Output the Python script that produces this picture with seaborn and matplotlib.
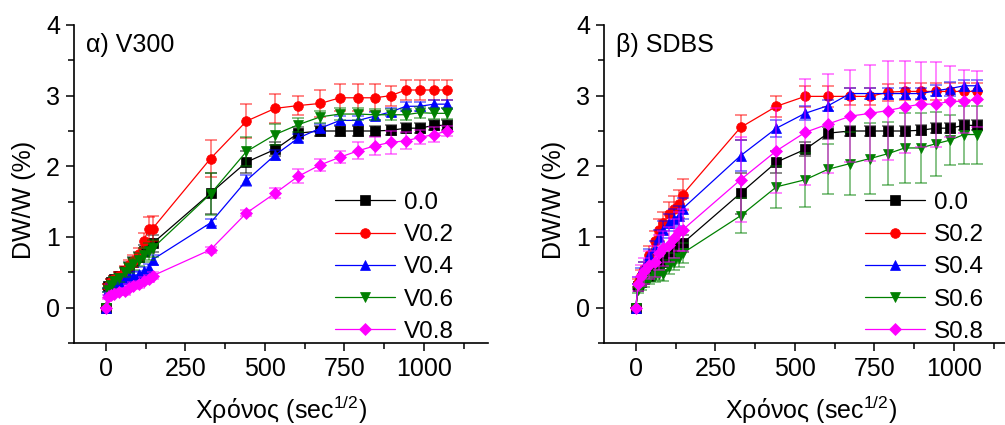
import numpy as np
import pandas as pd
import matplotlib
matplotlib.use("Agg")
import matplotlib.pyplot as plt
from matplotlib.ticker import MultipleLocator
import seaborn as sns

# time axis, sqrt(seconds)
t_sqrt = [0, 7.7, 17.3, 24.5, 42.4, 60, 73.5, 84.9, 103.9, 120, 134.2, 147,
          329, 442, 532, 605, 674, 736, 793, 845, 895, 943, 987, 1031, 1073]

# control (same in both panels)
y_00 = [0, 0.30, 0.36, 0.40, 0.45, 0.52, 0.58, 0.65, 0.72, 0.80, 0.87, 0.91,
        1.62, 2.06, 2.24, 2.47, 2.50, 2.50, 2.50, 2.50, 2.51, 2.54, 2.54, 2.58, 2.58]
e_00 = [0, 0.03, 0.04, 0.05, 0.05, 0.05, 0.06, 0.06, 0.07, 0.08, 0.10, 0.12,
        0.29, 0.15, 0.10, 0.08, 0.07, 0.07, 0.07, 0.07, 0.07, 0.07, 0.07, 0.07, 0.07]

# panel a) V300
y_v02 = [0, 0.30, 0.36, 0.40, 0.45, 0.52, 0.60, 0.66, 0.76, 0.95, 1.11, 1.12,
         2.11, 2.64, 2.82, 2.86, 2.89, 2.97, 2.97, 2.97, 3.00, 3.08, 3.08, 3.08, 3.08]
e_v02 = [0, 0.04, 0.05, 0.05, 0.06, 0.07, 0.08, 0.08, 0.09, 0.10, 0.18, 0.18,
         0.26, 0.24, 0.20, 0.14, 0.19, 0.19, 0.19, 0.19, 0.14, 0.14, 0.14, 0.14, 0.14]
y_v04 = [0, 0.25, 0.30, 0.33, 0.36, 0.40, 0.43, 0.45, 0.47, 0.52, 0.56, 0.68,
         1.20, 1.80, 2.16, 2.40, 2.54, 2.65, 2.65, 2.71, 2.77, 2.85, 2.85, 2.88, 2.88]
e_v04 = [0, 0.03, 0.03, 0.04, 0.04, 0.04, 0.05, 0.05, 0.05, 0.06, 0.06, 0.07,
         0.05, 0.08, 0.07, 0.06, 0.06, 0.06, 0.06, 0.06, 0.06, 0.06, 0.06, 0.06, 0.06]
y_v06 = [0, 0.25, 0.32, 0.38, 0.42, 0.50, 0.56, 0.62, 0.68, 0.75, 0.80, 0.84,
         1.61, 2.21, 2.45, 2.59, 2.70, 2.74, 2.74, 2.73, 2.73, 2.73, 2.76, 2.75, 2.75]
e_v06 = [0, 0.03, 0.04, 0.05, 0.05, 0.06, 0.07, 0.08, 0.09, 0.10, 0.12, 0.12,
         0.30, 0.20, 0.15, 0.10, 0.08, 0.08, 0.08, 0.08, 0.08, 0.08, 0.08, 0.08, 0.08]
y_v08 = [0, 0.15, 0.18, 0.20, 0.22, 0.23, 0.28, 0.31, 0.33, 0.38, 0.41, 0.45,
         0.82, 1.34, 1.62, 1.86, 2.02, 2.13, 2.22, 2.29, 2.34, 2.36, 2.41, 2.45, 2.50]
e_v08 = [0, 0.03, 0.03, 0.04, 0.04, 0.05, 0.05, 0.05, 0.05, 0.05, 0.05, 0.05,
         0.04, 0.04, 0.07, 0.10, 0.08, 0.08, 0.12, 0.13, 0.16, 0.12, 0.10, 0.10, 0.07]

# panel b) SDBS
y_s02 = [0, 0.35, 0.45, 0.55, 0.75, 0.95, 1.10, 1.20, 1.32, 1.40, 1.47, 1.60,
         2.55, 2.85, 2.99, 2.99, 2.99, 2.99, 3.05, 3.06, 3.06, 3.06, 3.06, 3.06, 3.06]
e_s02 = [0, 0.06, 0.08, 0.10, 0.12, 0.14, 0.15, 0.16, 0.18, 0.18, 0.20, 0.22,
         0.18, 0.15, 0.15, 0.15, 0.12, 0.12, 0.12, 0.12, 0.12, 0.12, 0.12, 0.12, 0.12]
y_s04 = [0, 0.38, 0.50, 0.58, 0.75, 0.85, 1.00, 1.10, 1.20, 1.26, 1.30, 1.40,
         2.15, 2.54, 2.75, 2.86, 3.03, 3.03, 3.03, 3.03, 3.03, 3.07, 3.10, 3.14, 3.14]
e_s04 = [0, 0.05, 0.06, 0.07, 0.08, 0.10, 0.10, 0.12, 0.12, 0.13, 0.14, 0.15,
         0.22, 0.12, 0.10, 0.08, 0.08, 0.08, 0.08, 0.08, 0.08, 0.08, 0.10, 0.08, 0.08]
y_s06 = [0, 0.25, 0.30, 0.35, 0.40, 0.45, 0.47, 0.48, 0.58, 0.65, 0.70, 0.77,
         1.30, 1.71, 1.81, 1.96, 2.04, 2.11, 2.18, 2.26, 2.26, 2.32, 2.37, 2.45, 2.45]
e_s06 = [0, 0.04, 0.05, 0.06, 0.07, 0.08, 0.08, 0.10, 0.10, 0.12, 0.12, 0.14,
         0.25, 0.30, 0.38, 0.35, 0.45, 0.50, 0.45, 0.50, 0.50, 0.45, 0.35, 0.41, 0.41]
y_s08 = [0, 0.33, 0.45, 0.52, 0.60, 0.65, 0.78, 0.84, 0.89, 0.98, 1.08, 1.10,
         1.81, 2.22, 2.48, 2.60, 2.71, 2.75, 2.79, 2.84, 2.88, 2.88, 2.92, 2.92, 2.95]
e_s08 = [0, 0.10, 0.15, 0.18, 0.20, 0.22, 0.25, 0.25, 0.25, 0.28, 0.28, 0.30,
         0.60, 0.60, 0.75, 0.70, 0.65, 0.68, 0.70, 0.65, 0.60, 0.60, 0.50, 0.45, 0.40]

labels_v = ["0.0", "V0.2", "V0.4", "V0.6", "V0.8"]
labels_s = ["0.0", "S0.2", "S0.4", "S0.6", "S0.8"]
colors = ["#000000", "#ff0000", "#0000ff", "#008000", "#ff00ff"]
markers = ["s", "o", "^", "v", "D"]
msizes = [6.5, 7, 7.5, 7.5, 6]

sns.set_theme(style="ticks")
plt.rcParams["font.family"] = ["Liberation Sans", "DejaVu Sans"]
plt.rcParams["mathtext.default"] = "regular"
plt.rcParams["text.color"] = "black"
plt.rcParams["axes.labelcolor"] = "black"
plt.rcParams["xtick.color"] = "black"
plt.rcParams["ytick.color"] = "black"


def draw_panel(ax, ys, es, labels, title):
    handles = []
    for y, e, lab, c, m, ms in zip(ys, es, labels, colors, markers, msizes):
        ax.errorbar(t_sqrt, y, yerr=e, fmt="none", ecolor=c, alpha=0.55,
                    elinewidth=1.2, capsize=4, capthick=1.2)
        df = pd.DataFrame({"t": t_sqrt, "y": y})
        sns.lineplot(data=df, x="t", y="y", ax=ax, color=c, marker=m,
                     markersize=ms, markeredgecolor=c, markeredgewidth=0.5,
                     linewidth=0.9, sort=False, errorbar=None, label=lab,
                     legend=False)
        handles.append(ax.lines[-1])
    ax.set_xlim(-100, 1200)
    ax.set_ylim(-0.5, 4)
    ax.xaxis.set_major_locator(MultipleLocator(250))
    ax.xaxis.set_minor_locator(MultipleLocator(125))
    ax.yaxis.set_major_locator(MultipleLocator(1))
    ax.yaxis.set_minor_locator(MultipleLocator(0.5))
    ax.tick_params(which="major", direction="out", length=6, width=1.1,
                   labelsize=18, pad=4, color="black", labelcolor="black")
    ax.tick_params(which="minor", direction="out", length=4, width=1.1,
                   color="black")
    for s in ["left", "bottom"]:
        ax.spines[s].set_linewidth(1.2)
        ax.spines[s].set_color("black")
    sns.despine(ax=ax)
    ax.set_xlabel("Χρόνος (sec$^{1/2}$)", fontsize=18, color="black")
    ax.set_ylabel("DW/W (%)", fontsize=18, color="black")
    ax.xaxis.set_label_coords(0.5, -0.16)
    ax.yaxis.set_label_coords(-0.092, 0.45)
    ax.text(0.028, 0.975, title, transform=ax.transAxes, fontsize=18,
            ha="left", va="top", color="black")
    ax.legend(handles, labels, loc="upper left", bbox_to_anchor=(0.632, 0.475),
              frameon=False, fontsize=17.5, handlelength=2.45,
              handletextpad=0.35, labelspacing=0.42, borderpad=0,
              borderaxespad=0, labelcolor="black")


fig = plt.figure(figsize=(10.05, 4.25), dpi=100)
ax1 = fig.add_axes([74 / 1005, 1 - 343 / 425, 413.7 / 1005, 318 / 425])
ax2 = fig.add_axes([604 / 1005, 1 - 343 / 425, 413.7 / 1005, 318 / 425])

draw_panel(ax1, [y_00, y_v02, y_v04, y_v06, y_v08],
           [e_00, e_v02, e_v04, e_v06, e_v08], labels_v, "α) V300")
draw_panel(ax2, [y_00, y_s02, y_s04, y_s06, y_s08],
           [e_00, e_s02, e_s04, e_s06, e_s08], labels_s, "β) SDBS")

fig.savefig("out.png", dpi=100)
